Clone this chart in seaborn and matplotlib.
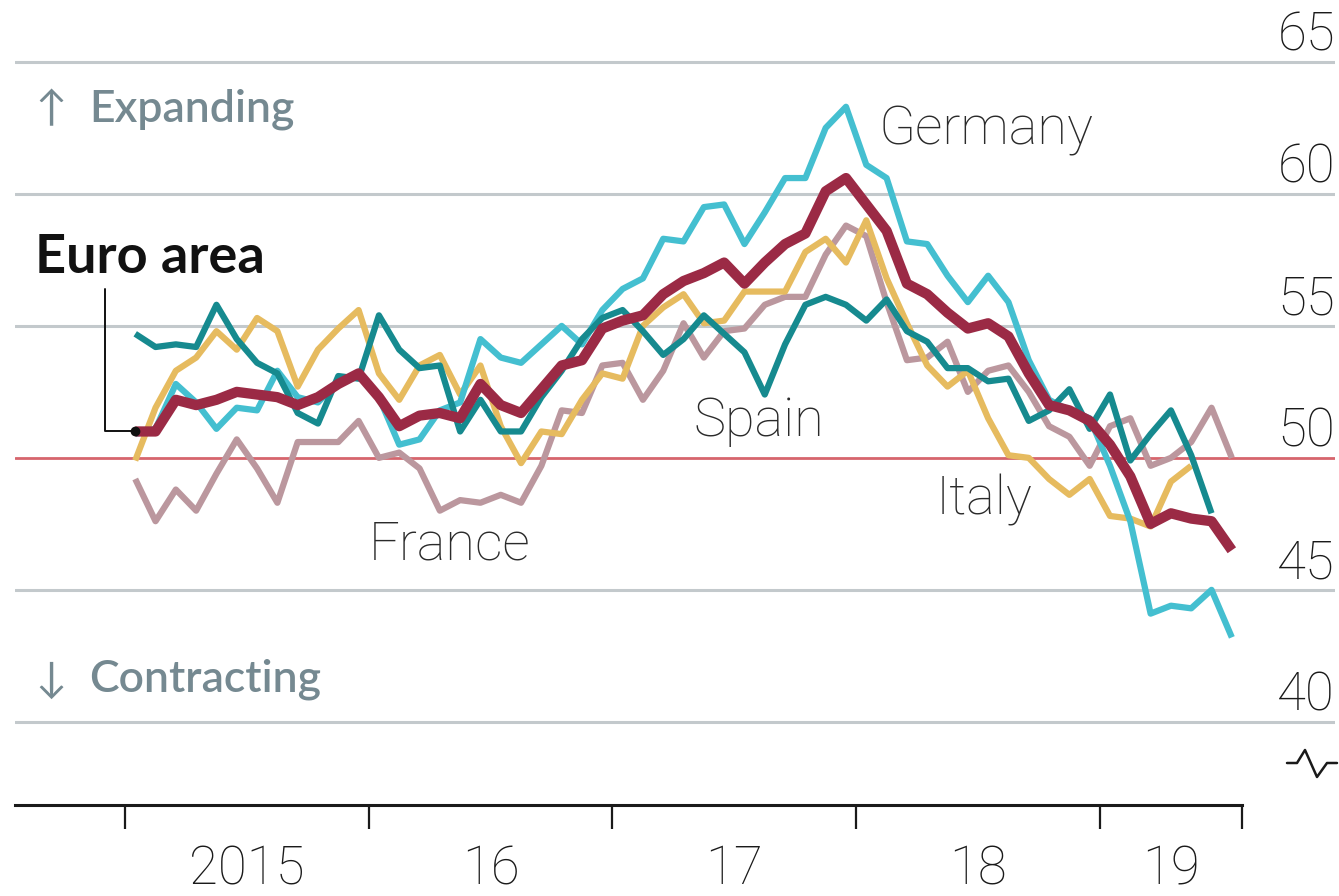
import numpy as np
import pandas as pd
import matplotlib
matplotlib.use("Agg")
import matplotlib.pyplot as plt
import matplotlib.transforms as mtransforms
from matplotlib.lines import Line2D
from matplotlib import font_manager
import seaborn as sns

# ---------------- data (monthly manufacturing PMI, Jan 2015 onwards) ----------------
EURO_AREA = [51.0, 51.0, 52.2, 52.0, 52.2, 52.5, 52.4, 52.3, 52.0, 52.3, 52.8, 53.2,
             52.3, 51.2, 51.6, 51.7, 51.5, 52.8, 52.0, 51.7, 52.6, 53.5, 53.7, 54.9,
             55.2, 55.4, 56.2, 56.7, 57.0, 57.4, 56.6, 57.4, 58.1, 58.5, 60.1, 60.6,
             59.6, 58.6, 56.6, 56.2, 55.5, 54.9, 55.1, 54.6, 53.2, 52.0, 51.8, 51.4,
             50.5, 49.3, 47.5, 47.9, 47.7, 47.6, 46.5]
GERMANY = [50.9, 51.1, 52.8, 52.1, 51.1, 51.9, 51.8, 53.3, 52.3, 52.1, 52.9, 53.2,
           52.3, 50.5, 50.7, 51.8, 52.1, 54.5, 53.8, 53.6, 54.3, 55.0, 54.3, 55.6,
           56.4, 56.8, 58.3, 58.2, 59.5, 59.6, 58.1, 59.3, 60.6, 60.6, 62.5, 63.3,
           61.1, 60.6, 58.2, 58.1, 56.9, 55.9, 56.9, 55.9, 53.7, 52.2, 51.8, 51.5,
           49.7, 47.6, 44.1, 44.4, 44.3, 45.0, 43.2]
FRANCE = [49.2, 47.6, 48.8, 48.0, 49.4, 50.7, 49.6, 48.3, 50.6, 50.6, 50.6, 51.4,
          50.0, 50.2, 49.6, 48.0, 48.4, 48.3, 48.6, 48.3, 49.7, 51.8, 51.7, 53.5,
          53.6, 52.2, 53.3, 55.1, 53.8, 54.8, 54.9, 55.8, 56.1, 56.1, 57.7, 58.8,
          58.4, 55.9, 53.7, 53.8, 54.4, 52.5, 53.3, 53.5, 52.5, 51.2, 50.8, 49.7,
          51.2, 51.5, 49.7, 50.0, 50.6, 51.9, 50.0]
ITALY = [49.9, 51.9, 53.3, 53.8, 54.8, 54.1, 55.3, 54.8, 52.7, 54.1, 54.9, 55.6,
         53.2, 52.2, 53.5, 53.9, 52.4, 53.5, 51.2, 49.8, 51.0, 50.9, 52.2, 53.2,
         53.0, 55.0, 55.7, 56.2, 55.1, 55.2, 56.3, 56.3, 56.3, 57.8, 58.3, 57.4,
         59.0, 56.8, 55.1, 53.5, 52.7, 53.3, 51.5, 50.1, 50.0, 49.2, 48.6, 49.2,
         47.8, 47.7, 47.4, 49.1, 49.7]
SPAIN = [54.7, 54.2, 54.3, 54.2, 55.8, 54.5, 53.6, 53.2, 51.7, 51.3, 53.1, 53.0,
         55.4, 54.1, 53.4, 53.5, 51.0, 52.2, 51.0, 51.0, 52.3, 53.3, 54.5, 55.3,
         55.6, 54.8, 53.9, 54.5, 55.4, 54.7, 54.0, 52.4, 54.3, 55.8, 56.1, 55.8,
         55.2, 56.0, 54.8, 54.4, 53.4, 53.4, 52.9, 53.0, 51.4, 51.8, 52.6, 51.1,
         52.4, 49.9, 50.9, 51.8, 50.1, 47.9]

START = "2015-01"
YEAR_LABELS = ["2015", "16", "17", "18", "19"]
Y_TICKS = [40, 45, 50, 55, 60, 65]
THRESHOLD = 50
SERIES_LABELS = ["Germany", "Spain", "France", "Italy"]

# ---------------- build long-form table ----------------
series = {"France": FRANCE, "Italy": ITALY, "Germany": GERMANY,
          "Spain": SPAIN, "Euro area": EURO_AREA}
start = pd.Period(START, freq="M")
rows = []
for name, vals in series.items():
    for i, v in enumerate(vals):
        p = start + i
        rows.append({"country": name, "month": i + 0.5, "period": str(p), "pmi": v})
df = pd.DataFrame(rows)

# ---------------- fonts ----------------
available = {f.name for f in font_manager.fontManager.ttflist}
LABEL_FONT = "Lato" if "Lato" in available else "DejaVu Sans"
THIN_FONT = "Roboto" if "Roboto" in available else LABEL_FONT

sns.set_theme(style="white")
plt.rcParams["font.family"] = [LABEL_FONT, "DejaVu Sans"]

colors = {"France": "#bb979e", "Italy": "#e6bb5f", "Germany": "#44bfd0",
          "Spain": "#168a8f", "Euro area": "#9b2a45"}
widths = {"France": 4.5, "Italy": 4.5, "Germany": 4.5, "Spain": 4.5, "Euro area": 7.4}

W, H = 1339, 896
fig = plt.figure(figsize=(W / 100, H / 100), dpi=100)
ax = fig.add_axes([15 / W, (H - 805) / H, 1320 / W, (805 - 40) / H])

n_months = len(EURO_AREA)
x_left = -5.42
x_right = 59.58
ax.set_xlim(x_left, x_right)
ax.set_ylim(36.85, 65.83)

# grid lines
for v in Y_TICKS:
    if v == THRESHOLD:
        ax.axhline(v, color="#d6656d", lw=2.0, zorder=1)
    else:
        ax.axhline(v, color="#c3c9cc", lw=2.2, zorder=1)

# lines
for name in ["France", "Italy", "Germany", "Spain", "Euro area"]:
    sub = df[df["country"] == name]
    sns.lineplot(data=sub, x="month", y="pmi", ax=ax, color=colors[name],
                 lw=widths[name], legend=False, zorder=3 if name != "Euro area" else 5,
                 solid_capstyle="butt", solid_joinstyle="round")

NUM_KW = dict(fontsize=38, color="#1a1a1a", fontweight="light",
              family=[THIN_FONT, "DejaVu Sans"])

# y tick labels (right, above gridlines)
offset = mtransforms.offset_copy(ax.get_yaxis_transform(), fig=fig, x=0, y=8, units="points")
for v in Y_TICKS:
    ax.text(1.0, v, str(v), transform=offset, ha="right", va="baseline", **NUM_KW)

# x axis
ax.set_xlabel("")
ax.set_ylabel("")
ax.set_yticks([])
for s in ["left", "right", "top"]:
    ax.spines[s].set_visible(False)
ax.spines["bottom"].set_color("#1a1a1a")
ax.spines["bottom"].set_linewidth(2.2)
ax.spines["bottom"].set_bounds(x_left, n_months)
major = [0, 12, 24, 36, 48, n_months]
minor = [6, 18, 30, 42, (48 + n_months) / 2]
ax.set_xticks(major)
ax.set_xticklabels([""] * len(major))
ax.set_xticks(minor, minor=True)
ax.set_xticklabels(YEAR_LABELS, minor=True, **NUM_KW)
ax.tick_params(axis="x", which="major", direction="out", length=17, width=1.6,
               color="#1a1a1a", bottom=True)
ax.tick_params(axis="x", which="minor", length=0, pad=28, bottom=True)

# annotations
SIDE_KW = dict(fontsize=32, color="#758991", ha="left", va="center",
               fontweight="semibold")
ARROW_KW = dict(fontsize=30, color="#758991", ha="left", va="center",
                fontweight="normal")
ax.text(-4.43, 63.2, "\u2191", **ARROW_KW)
ax.text(-1.75, 63.2, "Expanding", **SIDE_KW)
ax.text(-4.43, 41.6, "\u2193", **ARROW_KW)
ax.text(-1.75, 41.6, "Contracting", **SIDE_KW)
ax.text(-4.43, 57.6, "Euro area", fontsize=39, fontweight="bold", color="#111111",
        ha="left", va="center")
label_pos = {"Germany": (37.1, 62.4), "Spain": (28.0, 51.4),
             "France": (12.0, 46.7), "Italy": (39.9, 48.4)}
for name in SERIES_LABELS:
    lx, ly = label_pos[name]
    ax.text(lx, ly, name, fontsize=39, color="#2a2a2a", ha="left", va="center",
            fontweight="light", family=[THIN_FONT, "DejaVu Sans"])

# leader line from label to first Euro-area point
ax.plot([-0.98, -0.98, 0.5], [56.4, EURO_AREA[0], EURO_AREA[0]], color="#111111",
        lw=1.4, zorder=6)
ax.plot([0.5], [EURO_AREA[0]], marker="o", ms=6, color="#111111", zorder=7)

# axis-break symbol below the 40 line
bx = np.array([1287, 1297, 1305, 1317, 1327, 1337]) / W
by = 1 - np.array([763, 763, 750, 777, 763, 763]) / H
fig.add_artist(Line2D(bx, by, color="#1a1a1a", lw=1.8, transform=fig.transFigure))

fig.savefig("out.png", dpi=100, facecolor="white")
